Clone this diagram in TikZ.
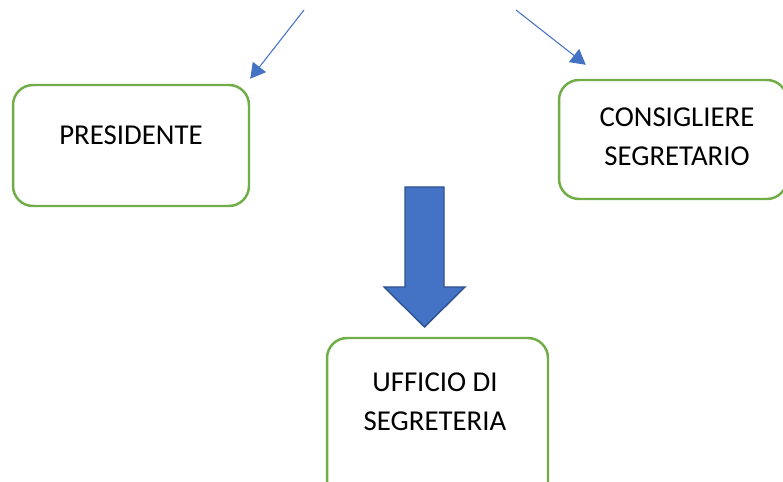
\documentclass[tikz,border=0pt]{standalone}
\usepackage{fontspec}
\setmainfont{Carlito}
\usetikzlibrary{arrows.meta}
\definecolor{boxgreen}{HTML}{70AD47}
\definecolor{linkblue}{HTML}{4472C4}
\definecolor{arrowedge}{HTML}{2F528F}
\tikzset{
  carica/.style={draw=boxgreen, line width=1.4pt, rounded corners=0.4cm, fill=white},
  scritta/.style={align=center, inner sep=0pt, font=\fontsize{16.4}{22.2}\selectfont},
  freccina/.style={draw=linkblue, line width=0.6pt, -{Triangle[length=0.3cm,width=0.33cm]}}
}
\begin{document}
\begin{tikzpicture}[x=0.02cm, y=-0.02cm]
\clip (0,0) rectangle (783,482);
% caselle
\node[carica, minimum width=4.72cm, minimum height=2.42cm] (pres) at (131,145.5) {};
\node[carica, minimum width=4.56cm, minimum height=2.38cm] (cons) at (673,139.5) {};
\node[carica, minimum width=4.42cm, minimum height=3.64cm] (uff) at (437.5,429) {};
\node[scritta] (prestxt) at (131,135) {PRESIDENTE};
\node[scritta] (constxt) at (677,137) {CONSIGLIERE\\SEGRETARIO};
\node[scritta] (ufftxt) at (435,402) {UFFICIO DI\\SEGRETERIA};
% frecce sottili
\coordinate (coda1) at (304,10);
\coordinate (coda2) at (516,10);
\coordinate (punta1) at ([yshift=0.1cm]pres.north east);
\coordinate (punta2) at ([shift={(0.56cm,0.28cm)}]cons.north west);
\draw[freccina] (coda1) -- (punta1);
\draw[freccina] (coda2) -- (punta2);
% freccia grande
\draw[arrowedge, line width=0.8pt, fill=linkblue] (405,187) -- ++(39,0) -- ++(0,100) -- ++(21,0)
  -- (424.5,327) -- (384,287) -- ++(21,0) -- cycle;
\end{tikzpicture}
\end{document}
